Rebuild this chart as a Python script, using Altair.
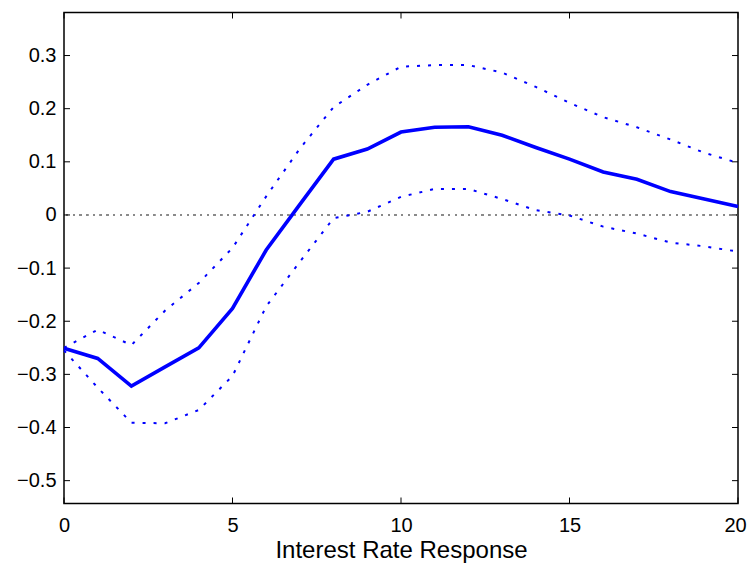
import altair as alt
import pandas as pd

# data
horizon = list(range(21))
response = [-0.251, -0.270, -0.322, -0.286, -0.250, -0.176, -0.066, 0.020, 0.105, 0.124,
            0.156, 0.165, 0.166, 0.150, 0.127, 0.105, 0.081, 0.067, 0.044, 0.030, 0.016]
upper = [-0.250, -0.216, -0.245, -0.180, -0.128, -0.062, 0.035, 0.125, 0.203, 0.245,
         0.279, 0.282, 0.282, 0.268, 0.241, 0.211, 0.184, 0.165, 0.142, 0.117, 0.098]
lower = [-0.255, -0.325, -0.391, -0.392, -0.367, -0.303, -0.172, -0.088, -0.006, 0.006,
         0.034, 0.049, 0.049, 0.030, 0.009, -0.001, -0.022, -0.035, -0.052, -0.059, -0.069]
x_ticks = [0, 5, 10, 15, 20]
y_ticks = [-0.5, -0.4, -0.3, -0.2, -0.1, 0, 0.1, 0.2, 0.3]
x_domain = [0, 20]
y_domain = [-0.543, 0.381]

W, H = 674, 491
FONT = "Liberation Sans"

df = pd.DataFrame({"h": horizon, "resp": response, "up": upper, "lo": lower})
xt = pd.DataFrame({"t": x_ticks})
yt = pd.DataFrame({"t": y_ticks})

xscale = alt.Scale(domain=x_domain, nice=False, zero=False)
yscale = alt.Scale(domain=y_domain, nice=False, zero=False)

xaxis = alt.Axis(values=x_ticks, format="d", ticks=False, tickSize=0, domain=False, grid=False,
                 labelFont=FONT, labelFontSize=20, labelColor="black", labelPadding=12,
                 labelFlush=False, labelOverlap=False,
                 labelOffset={"condition": {"test": "datum.value == 20", "value": -3}, "value": 0},
                 title="Interest Rate Response", titleFont=FONT, titleFontSize=24,
                 titleFontWeight="normal", titleColor="black", titleBaseline="alphabetic",
                 titleY=54)
yaxis = alt.Axis(values=y_ticks, format=".1~f", ticks=False, tickSize=0, domain=False, grid=False,
                 labelFont=FONT, labelFontSize=20, labelColor="black", labelPadding=8,
                 labelBaseline="middle", labelOverlap=False, title=None)

base = alt.Chart(df)

zero = alt.Chart(df).mark_rule(color="#8a8a8a", strokeWidth=1.5, strokeDash=[1.6, 5.1]).encode(
    y=alt.Y(datum=0, scale=yscale, axis=yaxis)
)

band_style = dict(color="#0000ff", strokeWidth=2, strokeDash=[3, 8])
up_line = base.mark_line(**band_style).encode(
    x=alt.X("h:Q", scale=xscale, axis=xaxis),
    y=alt.Y("up:Q", scale=yscale, axis=yaxis),
)
lo_line = base.mark_line(**band_style).encode(
    x=alt.X("h:Q", scale=xscale, axis=xaxis),
    y=alt.Y("lo:Q", scale=yscale, axis=yaxis),
)
main_line = base.mark_line(color="#0000ff", strokeWidth=3.6).encode(
    x=alt.X("h:Q", scale=xscale, axis=xaxis),
    y=alt.Y("resp:Q", scale=yscale, axis=yaxis),
)

tick_style = dict(color="black", strokeWidth=1)
xt_bottom = alt.Chart(xt).mark_rule(**tick_style).encode(
    x=alt.X("t:Q", scale=xscale, axis=xaxis), y=alt.value(H), y2=alt.value(H - 6))
xt_top = alt.Chart(xt).mark_rule(**tick_style).encode(
    x=alt.X("t:Q", scale=xscale, axis=xaxis), y=alt.value(0), y2=alt.value(6))
yt_left = alt.Chart(yt).mark_rule(**tick_style).encode(
    y=alt.Y("t:Q", scale=yscale, axis=yaxis), x=alt.value(0), x2=alt.value(6))
yt_right = alt.Chart(yt).mark_rule(**tick_style).encode(
    y=alt.Y("t:Q", scale=yscale, axis=yaxis), x=alt.value(W), x2=alt.value(W - 6))

chart = alt.layer(
    zero, up_line, lo_line, main_line, xt_bottom, xt_top, yt_left, yt_right
).properties(
    width=W, height=H,
    autosize=alt.AutoSizeParams(type="none"),
    padding={"left": 56, "top": 4.5, "right": 9, "bottom": 59},
    background="white",
).configure_view(
    stroke="black", strokeWidth=1.5
)

chart.save("out.html", embed_options={"renderer": "svg", "actions": False})
